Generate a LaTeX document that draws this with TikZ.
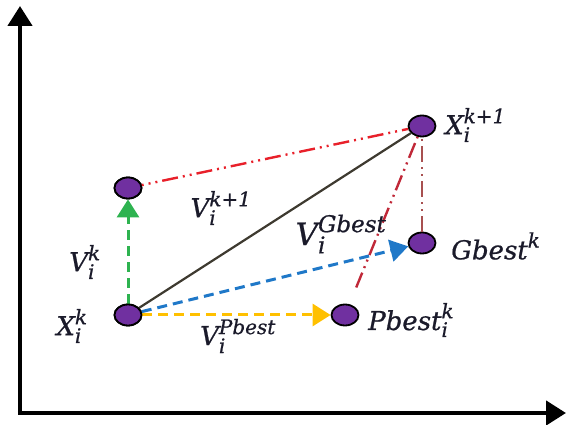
\documentclass[tikz,border=0pt]{standalone}
\usepackage{amsmath}
\usepackage{fontspec}
\setmainfont{DejaVu Serif}[ItalicFeatures={FakeBold=0.8}]
\usetikzlibrary{arrows.meta,shapes.geometric}
\DeclareMathSizes{26}{26}{20}{15}
\DeclareMathSizes{31}{31}{23}{18}
\definecolor{pt}{HTML}{7030A0}
\definecolor{gr}{HTML}{2EB350}
\definecolor{bl}{HTML}{1F78C8}
\definecolor{yl}{HTML}{FFC000}
\definecolor{rd}{HTML}{E8202A}
\definecolor{dr}{HTML}{C02838}
\definecolor{br}{HTML}{A85050}
\definecolor{ol}{HTML}{3E3A30}
\definecolor{tx}{HTML}{1A1A2A}
\newcommand{\sym}[3]{$\textit{#1}_{\textit{#2}}^{\textit{#3}}$}
\tikzset{
  pnode/.style={ellipse, draw=black, line width=1.8pt, fill=pt, minimum width=27pt, minimum height=21pt, inner sep=0pt},
  axisline/.style={line width=4.5pt, -{Triangle[width=24pt,length=20pt]}},
  vec/.style={line width=3pt, dash pattern=on 10pt off 6pt, -{Triangle[width=22pt,length=18pt]}},
  ddot/.style={line width=2.4pt, dash pattern=on 16pt off 5pt on 2pt off 5pt on 2pt off 5pt},
  lab/.style={font=\fontsize{26}{30}\selectfont, inner sep=0pt, text=tx}
}
\begin{document}
\begin{tikzpicture}[x=1pt,y=-1pt]
\useasboundingbox (0,0) rectangle (566,425);
% axes
\coordinate (O) at (20,413);
\coordinate (Ytop) at (20,6);
\coordinate (Xend) at (566,413);
\draw[axisline] (O) -- (Ytop);
\draw[axisline] ([xshift=-2.25pt]O) -- (Xend);
% points
\node[pnode] (xk) at (128,315) {};
\node[pnode] (up) at (128,188) {};
\node[pnode] (xk1) at (422,126) {};
\node[pnode] (gb) at (422,243) {};
\node[pnode] (pb) at (345,315) {};
% connectors
\draw[line width=2.2pt, ol] (xk.center) -- (xk1);
\draw[vec, gr] (xk) -- (up);
\draw[vec, yl] (xk) -- (pb);
\draw[vec, bl] (xk) -- (gb);
\draw[ddot, rd] (up.center) -- (xk1);
\draw[ddot, dr, shorten <=18pt] (pb) -- (xk1);
\draw[ddot, br] (gb) -- (xk1);
\node[pnode] at (xk) {};
\node[pnode] at (up) {};
% labels
\node[lab, anchor=west] (lxk1) at (445,125) {\sym{X}{i}{k+1}};
\node[lab, anchor=west] (lgb) at (451,246) {$\textit{Gbest}^{\textit{k}}$};
\node[lab, anchor=west] (lpb) at (368,320) {\sym{Pbest}{i}{k}};
\node[lab, font=\fontsize{31}{35}\selectfont] (lvg) at (341,234) {\sym{V}{i}{Gbest}};
\node[lab] (lvk1) at (221,208) {\sym{V}{i}{k+1}};
\node[lab] (lvp) at (238,336) {\sym{V}{i}{Pbest}};
\node[lab] (lvk) at (85,262) {\sym{V}{i}{k}};
\node[lab] (lxk) at (72,326) {\sym{X}{i}{k}};
\end{tikzpicture}
\end{document}
